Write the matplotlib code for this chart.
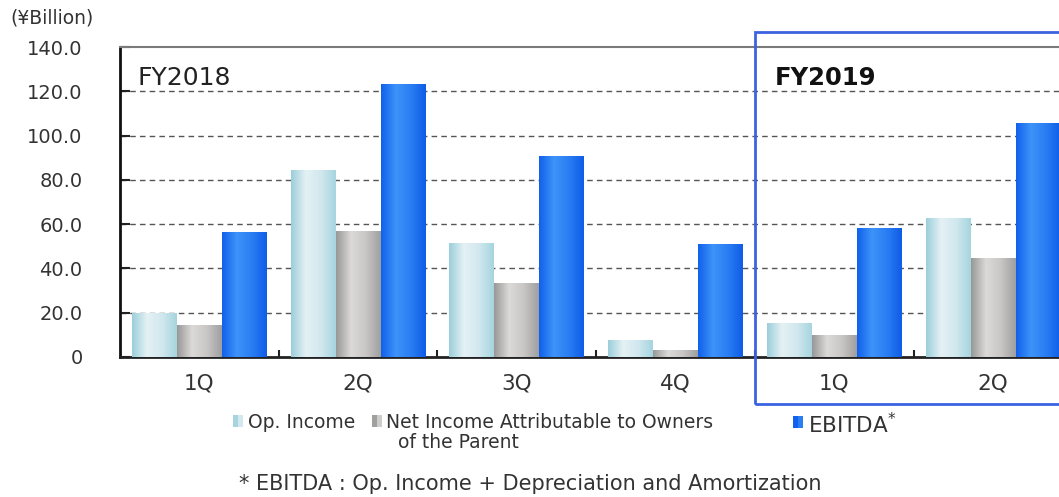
import numpy as np
import matplotlib
matplotlib.use("Agg")
import matplotlib.pyplot as plt
from matplotlib.colors import LinearSegmentedColormap
from matplotlib.patches import Rectangle

# quarterly results, FY2018 1Q-4Q then FY2019 1Q-2Q (billion yen)
quarters = ["1Q", "2Q", "3Q", "4Q", "1Q", "2Q"]
op_income = [19.8, 84.6, 51.3, 7.5, 15.5, 62.6]
net_income = [14.6, 56.7, 33.2, 3.0, 9.8, 44.5]
ebitda = [56.4, 123.5, 90.7, 51.0, 58.4, 105.6]

y_ticks = [0, 20, 40, 60, 80, 100, 120, 140]
y_labels = ["0", "20.0", "40.0", "60.0", "80.0", "100.0", "120.0", "140.0"]

series = [
    ("Op. Income", op_income, ["#9ccfdb", "#e4f1f5", "#d2e8ee", "#a6d5df"]),
    ("Net Income", net_income, ["#999999", "#dcdad8", "#c9c7c5", "#a0a0a0"]),
    ("EBITDA", ebitda, ["#1261ec", "#3d93f8", "#2a7ef3", "#0f5de8"]),
]

plt.rcParams["font.family"] = ["DejaVu Sans"]
txt = "#333333"

fig = plt.figure(figsize=(10.59, 4.97), dpi=100)
ax = fig.add_axes([120 / 1059, 140 / 497, 939 / 1059, 310 / 497])

x = np.arange(len(quarters))
w = 0.283
grad = np.linspace(0, 1, 64).reshape(1, -1)
for i, (name, vals, stops) in enumerate(series):
    cmap = LinearSegmentedColormap.from_list(name, stops)
    bars = ax.bar(x + (i - 1) * w, vals, w, color=stops[0], linewidth=0, zorder=2)
    for b in bars:
        x0, y0 = b.get_x(), b.get_y()
        im = ax.imshow(grad, cmap=cmap, aspect="auto", zorder=3,
                       extent=[x0, x0 + b.get_width(), y0, y0 + b.get_height()])
        im.set_clip_path(b)

ax.set_xlim(-0.5, 5.415)
ax.set_ylim(0, 140)
ax.set_yticks(y_ticks)
ax.set_yticklabels(y_labels, fontsize=14, color=txt)
ax.set_xticks(x)
ax.set_xticklabels(quarters, fontsize=15.5, color=txt)
ax.set_xticks(np.arange(0.5, 5, 1), minor=True)
ax.tick_params(axis="x", which="major", length=0, pad=12)
ax.tick_params(axis="x", which="minor", direction="in", length=5, width=1.5, color="#222222")
ax.tick_params(axis="y", direction="in", length=7, width=1.5, color="#222222", pad=27)

for y in y_ticks[1:-1]:
    ax.axhline(y, color="#555555", lw=1, ls=(0, (4, 3)), zorder=1)

ax.spines["left"].set_linewidth(2)
ax.spines["left"].set_color("#111111")
ax.spines["bottom"].set_linewidth(2)
ax.spines["bottom"].set_color("#222222")
ax.spines["top"].set_color("#7a7a7a")
ax.spines["top"].set_linewidth(1.5)
ax.spines["right"].set_visible(False)

ax.text(0.019, 0.9, "FY2018", transform=ax.transAxes, fontsize=18, color="#222222", va="center")
ax.text(0.697, 0.9, "FY2019", transform=ax.transAxes, fontsize=17.5, color="#111111",
        fontweight="bold", va="center")

# frame around the current fiscal year
fig.add_artist(Rectangle((755 / 1059, 1 - 404 / 497), 320 / 1059, 372 / 497,
                         transform=fig.transFigure, fill=False, ec="#3b63e0", lw=2))

fig.text(10 / 1059, 1 - 18 / 497, "(\u00a5Billion)", fontsize=13.5, color=txt, va="center")

# legend
def legend_icon(xp, yp, c1, c2):
    fig.add_artist(Rectangle((xp / 1059, 1 - (yp + 12) / 497), 5 / 1059, 12 / 497,
                             transform=fig.transFigure, color=c1, lw=0))
    fig.add_artist(Rectangle(((xp + 5) / 1059, 1 - (yp + 12) / 497), 5 / 1059, 12 / 497,
                             transform=fig.transFigure, color=c2, lw=0))

legend_icon(233, 415, "#a6d5df", "#d2e8ee")
fig.text(248 / 1059, 1 - 422 / 497, "Op. Income", fontsize=13.5, color=txt, va="center")
legend_icon(372, 415, "#a0a0a0", "#cfcdcb")
fig.text(386 / 1059, 1 - 422 / 497, "Net Income Attributable to Owners", fontsize=13.5,
         color=txt, va="center")
fig.text(398 / 1059, 1 - 442 / 497, "of the Parent", fontsize=13.5, color=txt, va="center")
legend_icon(793, 416, "#1261ec", "#2a7ef3")
fig.text(808 / 1059, 1 - 425 / 497, "EBITDA$^{*}$", fontsize=15.5, color=txt, va="center")

fig.text(530 / 1059, 1 - 484 / 497, "* EBITDA : Op. Income + Depreciation and Amortization",
         fontsize=15, color=txt, ha="center", va="center")

fig.savefig("out.png", dpi=100)
